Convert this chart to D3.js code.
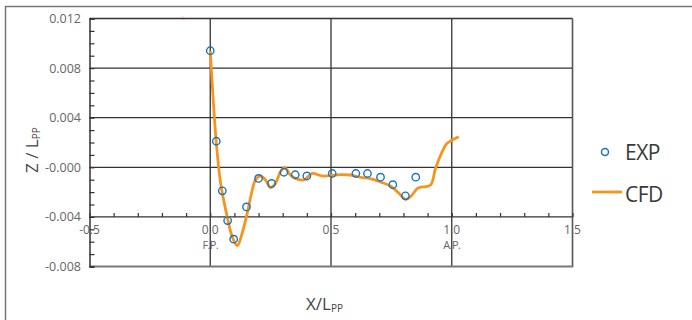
<!DOCTYPE html>
<html>
<head>
<meta charset="utf-8">
<script src="https://cdn.jsdelivr.net/npm/d3@7"></script>
<style>
  body { margin: 0; background: #fff; }
  svg { display: block; font-family: "Open Sans", "Noto Sans", sans-serif; }
</style>
</head>
<body>
<svg id="chart" width="692" height="320"></svg>
<script>
// experimental points (X/Lpp, Z/Lpp)
const expX = [0.0, 0.025, 0.05, 0.072, 0.097, 0.15, 0.20, 0.254, 0.305, 0.352, 0.40, 0.505, 0.603, 0.651, 0.705, 0.756, 0.808, 0.851]
const expZ = [0.0094, 0.0021, -0.0019, -0.0043, -0.0058, -0.0032, -0.0009, -0.0013, -0.0004, -0.0006, -0.0007, -0.0005, -0.0005, -0.0005, -0.0008, -0.0014, -0.0023, -0.0008]

// CFD curve
const cfdX = [0.0, 0.025, 0.043, 0.070, 0.091, 0.112, 0.132, 0.153, 0.174, 0.187, 0.208, 0.229, 0.249, 0.270, 0.291, 0.309, 0.332, 0.353, 0.388, 0.422, 0.463, 0.539, 0.581, 0.622, 0.663, 0.705, 0.746, 0.788, 0.808, 0.829, 0.857, 0.870, 0.912, 0.933, 0.967, 0.981, 1.029]
const cfdZ = [0.0094, 0.0020, -0.00129, -0.00398, -0.0056, -0.00632, -0.00532, -0.00371, -0.00183, -0.00102, -0.0007, -0.00102, -0.00164, -0.00129, -0.00035, -0.00003, -0.00062, -0.00089, -0.00102, -0.00049, -0.0007, -0.00059, -0.00062, -0.00081, -0.00092, -0.00119, -0.00151, -0.00223, -0.00258, -0.00237, -0.00172, -0.00161, -0.00143, -0.00008, 0.00153, 0.00194, 0.00247]

const xTicks = [-0.5, 0.0, 0.5, 1.0, 1.5]
const xTickLabels = ["-0.5", "0.0", "0.5", "1.0", "1.5"]
const xSubLabels = {0: "F.P.", 1: "A.P."}
const yTicks = [0.012, 0.008, 0.004, 0, -0.004, -0.008]
const yTickLabels = ["0.012", "0.008", "0.004", "-0.000", "-0.004", "-0.008"]
const legendNames = ["EXP", "CFD"]

const blue = "#1b75bb"
const orange = "#f7941d"
const svg = d3.select("#chart")

const x = d3.scaleLinear().domain([-0.5, 1.5]).range([89.5, 572.5])
const y = d3.scaleLinear().domain([-0.008, 0.012]).range([266.5, 18.5])

// outer frame (left + top only)
svg.append("path")
    .attr("d", "M5.5,320 L5.5,6.5 L692,6.5")
    .attr("fill", "none")
    .attr("stroke", "#777")
    .attr("stroke-width", 1.5)

// faint artifact mark
svg.append("text").attr("x", 182).attr("y", 20)
    .attr("font-size", 6).attr("fill", "#f0b8c0").text("L")

const grid = svg.append("g")
// horizontal grid
grid.selectAll("line.h")
    .data(yTicks.filter(d => d > -0.008))
    .join("line")
    .attr("x1", x(-0.5)).attr("x2", x(1.5))
    .attr("y1", d => y(d)).attr("y2", d => y(d))
    .attr("stroke", "#333").attr("stroke-width", 1.3)
// vertical grid
grid.selectAll("line.v")
    .data(xTicks.slice(1, 4))
    .join("line")
    .attr("x1", d => x(d)).attr("x2", d => x(d))
    .attr("y1", y(0.012)).attr("y2", y(-0.008))
    .attr("stroke", "#333").attr("stroke-width", 1.3)
// right edge
svg.append("line")
    .attr("x1", x(1.5)).attr("x2", x(1.5))
    .attr("y1", y(0.012)).attr("y2", y(-0.008))
    .attr("stroke", "#555").attr("stroke-width", 1.6)
// bottom edge
svg.append("line")
    .attr("x1", x(-0.5)).attr("x2", x(1.5) + 0.8)
    .attr("y1", y(-0.008)).attr("y2", y(-0.008))
    .attr("stroke", "#777").attr("stroke-width", 2)

// y axis
const yAxis = d3.axisRight(y)
    .tickValues(d3.range(-8, 13).map(v => v / 1000))
    .tickSize(5)
    .tickFormat("")
svg.append("g")
    .attr("transform", `translate(${x(-0.5)},0)`)
    .call(yAxis)
    .call(g => g.select(".domain").attr("stroke", "#333").attr("stroke-width", 1.5))
    .call(g => g.selectAll(".tick line").attr("stroke", "#333").attr("stroke-width", 1.2))

svg.append("g").selectAll("text")
    .data(yTicks)
    .join("text")
    .attr("x", 81).attr("y", d => y(d) + 4.5)
    .attr("text-anchor", "end")
    .attr("font-size", 12.5)
    .attr("fill", "#666")
    .text((d, i) => yTickLabels[i])

// x axis at Z = -0.004
const xAxis = d3.axisTop(x)
    .tickValues(d3.range(-5, 16).map(v => v / 10))
    .tickSize(4)
    .tickFormat("")
svg.append("g")
    .attr("transform", `translate(0,${y(-0.004)})`)
    .call(xAxis)
    .call(g => g.select(".domain").remove())
    .call(g => g.selectAll(".tick line").attr("stroke", "#333").attr("stroke-width", 1.2))

const xl = svg.append("g")
xl.selectAll("text.t")
    .data(xTicks)
    .join("text")
    .attr("x", d => x(d)).attr("y", y(-0.004) + 17.5)
    .attr("text-anchor", "middle")
    .attr("font-size", 12)
    .attr("fill", "#666")
    .text((d, i) => xTickLabels[i])
xl.selectAll("text.s")
    .data(Object.keys(xSubLabels).map(Number))
    .join("text")
    .attr("x", d => x(d)).attr("y", y(-0.004) + 32.5)
    .attr("text-anchor", "middle")
    .attr("font-size", 11)
    .attr("letter-spacing", -0.6)
    .attr("fill", "#666")
    .text(d => xSubLabels[d])

// CFD line
const line = d3.line()
    .x(d => x(d[0])).y(d => y(d[1]))
    .curve(d3.curveCatmullRom.alpha(0.5))
svg.append("path")
    .datum(cfdX.map((v, i) => [v, cfdZ[i]]))
    .attr("d", line)
    .attr("fill", "none")
    .attr("stroke", orange)
    .attr("stroke-width", 2.8)
    .attr("stroke-linejoin", "round")

// EXP markers
svg.append("g").selectAll("circle")
    .data(expX.map((v, i) => [v, expZ[i]]))
    .join("circle")
    .attr("cx", d => x(d[0])).attr("cy", d => y(d[1]))
    .attr("r", 3.7)
    .attr("fill", "none")
    .attr("stroke", blue)
    .attr("stroke-width", 1.4)

// axis titles
const xt = svg.append("text")
    .attr("x", 306).attr("y", 310)
    .attr("font-size", 17).attr("fill", "#444")
xt.append("tspan").text("X/L")
xt.append("tspan").attr("font-size", 10).attr("dy", 2).text("PP")

const yt = svg.append("text")
    .attr("transform", "translate(38,173) rotate(-90)")
    .attr("font-size", 17).attr("fill", "#444")
yt.append("tspan").text("Z / L")
yt.append("tspan").attr("font-size", 10).attr("dy", 2).text("PP")

// legend
const lg = svg.append("g")
lg.append("circle").attr("cx", 605).attr("cy", 152).attr("r", 3.5)
    .attr("fill", "none").attr("stroke", blue).attr("stroke-width", 1.5)
lg.append("line").attr("x1", 592).attr("x2", 622).attr("y1", 192).attr("y2", 192)
    .attr("stroke", orange).attr("stroke-width", 2.8)
lg.selectAll("text")
    .data(legendNames)
    .join("text")
    .attr("x", 625).attr("y", (d, i) => 159.5 + i * 42)
    .attr("font-size", 21).attr("fill", "#3a3a3a")
    .attr("letter-spacing", -0.5)
    .text(d => d)
</script>
</body>
</html>
